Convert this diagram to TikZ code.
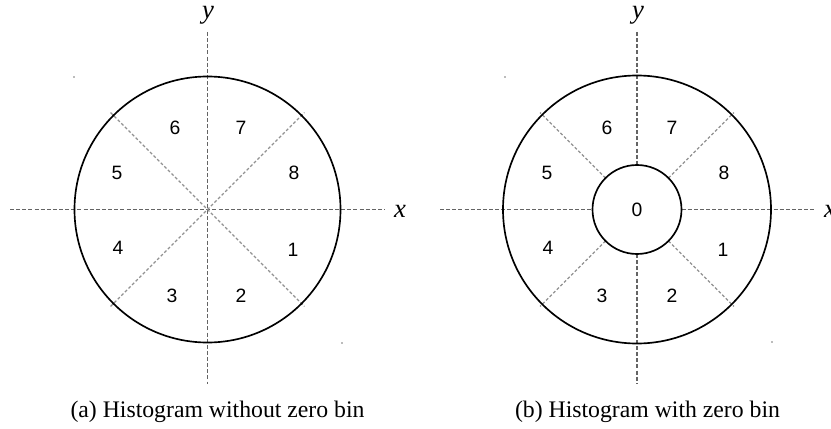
\documentclass[tikz,border=0pt]{standalone}
\usepackage{fontspec}
\setmainfont{Liberation Serif}
\newfontfamily\binfont{Liberation Sans}
\usepackage{xcolor}

\tikzset{
  axisline/.style={color={rgb, 255:red, 100; green, 100; blue, 100}, line width=1.3pt, dash pattern=on 3pt off 1.6pt},
  sectorline/.style={color={rgb, 255:red, 145; green, 145; blue, 145}, line width=0.95pt, dash pattern=on 2.2pt off 1.6pt},
  bincircle/.style={line width=1.25pt},
  binlabel/.style={font=\binfont\fontsize{14.5}{16}\selectfont, inner sep=0pt},
  axislabel/.style={font=\fontsize{20}{22}\selectfont\itshape, inner sep=0pt, anchor=base},
  caption/.style={font=\fontsize{17.8}{20}\selectfont, inner sep=0pt, anchor=base},
  speck/.style={fill={rgb, 255:red, 120; green, 120; blue, 120}}
}

\begin{document}
\begin{tikzpicture}[x=0.75pt,y=0.75pt,yscale=-1,xscale=1]
\useasboundingbox (0,0) rectangle (831,428);

% centres of the two histograms
\coordinate (ca) at (207.5,209.5);
\coordinate (cb) at (637,209.5);

%%%%% (a) without zero bin

%Straight Lines [axes]
\draw [axisline] (10,209.5) -- (385,209.5) ;
\draw [axisline] (207.5,32) -- (207.5,384) ;
%Straight Lines [sector borders]
\draw [sectorline] (110.6,112.6) -- (304.4,306.4) ;
\draw [sectorline] (110.6,306.4) -- (304.4,112.6) ;
%Shape: Circle
\draw [bincircle] (ca) circle (133) ;
%specks
\fill [speck] (74,77) circle (0.8) ;
\fill [speck] (342,343) circle (0.8) ;

% Text Node
\node [axislabel] (xa) at (400,217) {x};
\node [axislabel] (ya) at (208,19) {y};
% Text Node
\node [binlabel] (a1) at (293,250) {1};
\node [binlabel] (a2) at (241,296) {2};
\node [binlabel] (a3) at (172,296) {3};
\node [binlabel] (a4) at (118,248) {4};
\node [binlabel] (a5) at (117,173) {5};
\node [binlabel] (a6) at (175,128) {6};
\node [binlabel] (a7) at (241,128) {7};
\node [binlabel] (a8) at (294,173) {8};
% Text Node
\node [caption] (capa) at (217.5,417) {(a) Histogram without zero bin};

%%%%% (b) with zero bin

%Straight Lines [axes]
\draw [axisline] (440,209.5) -- (592.5,209.5) ;
\draw [axisline] (681.5,209.5) -- (815,209.5) ;
\draw [axisline] (637,32) -- (637,165) ;
\draw [axisline] (637,254) -- (637,384) ;
%Straight Lines [sector borders]
\draw [sectorline] (668.5,178) -- (733.9,112.6) ;
\draw [sectorline] (605.5,178) -- (540.1,112.6) ;
\draw [sectorline] (668.5,241) -- (733.9,306.4) ;
\draw [sectorline] (605.5,241) -- (540.1,306.4) ;
%Shape: Circle
\draw [bincircle] (cb) circle (134) ;
\draw [bincircle] (cb) circle (44.5) ;
%specks
\fill [speck] (505,77) circle (0.8) ;
\fill [speck] (772,342) circle (0.8) ;

% Text Node
\node [axislabel] (xb) at (830,217) {x};
\node [axislabel] (yb) at (638,19) {y};
% Text Node
\node [binlabel] (b0) at (cb) {0};
\node [binlabel] (b1) at (723,250) {1};
\node [binlabel] (b2) at (672,296) {2};
\node [binlabel] (b3) at (602,296) {3};
\node [binlabel] (b4) at (548,248) {4};
\node [binlabel] (b5) at (547,173) {5};
\node [binlabel] (b6) at (607,128) {6};
\node [binlabel] (b7) at (672,128) {7};
\node [binlabel] (b8) at (724,173) {8};
% Text Node
\node [caption] (capb) at (647.5,417) {(b) Histogram with zero bin};

\end{tikzpicture}
\end{document}
